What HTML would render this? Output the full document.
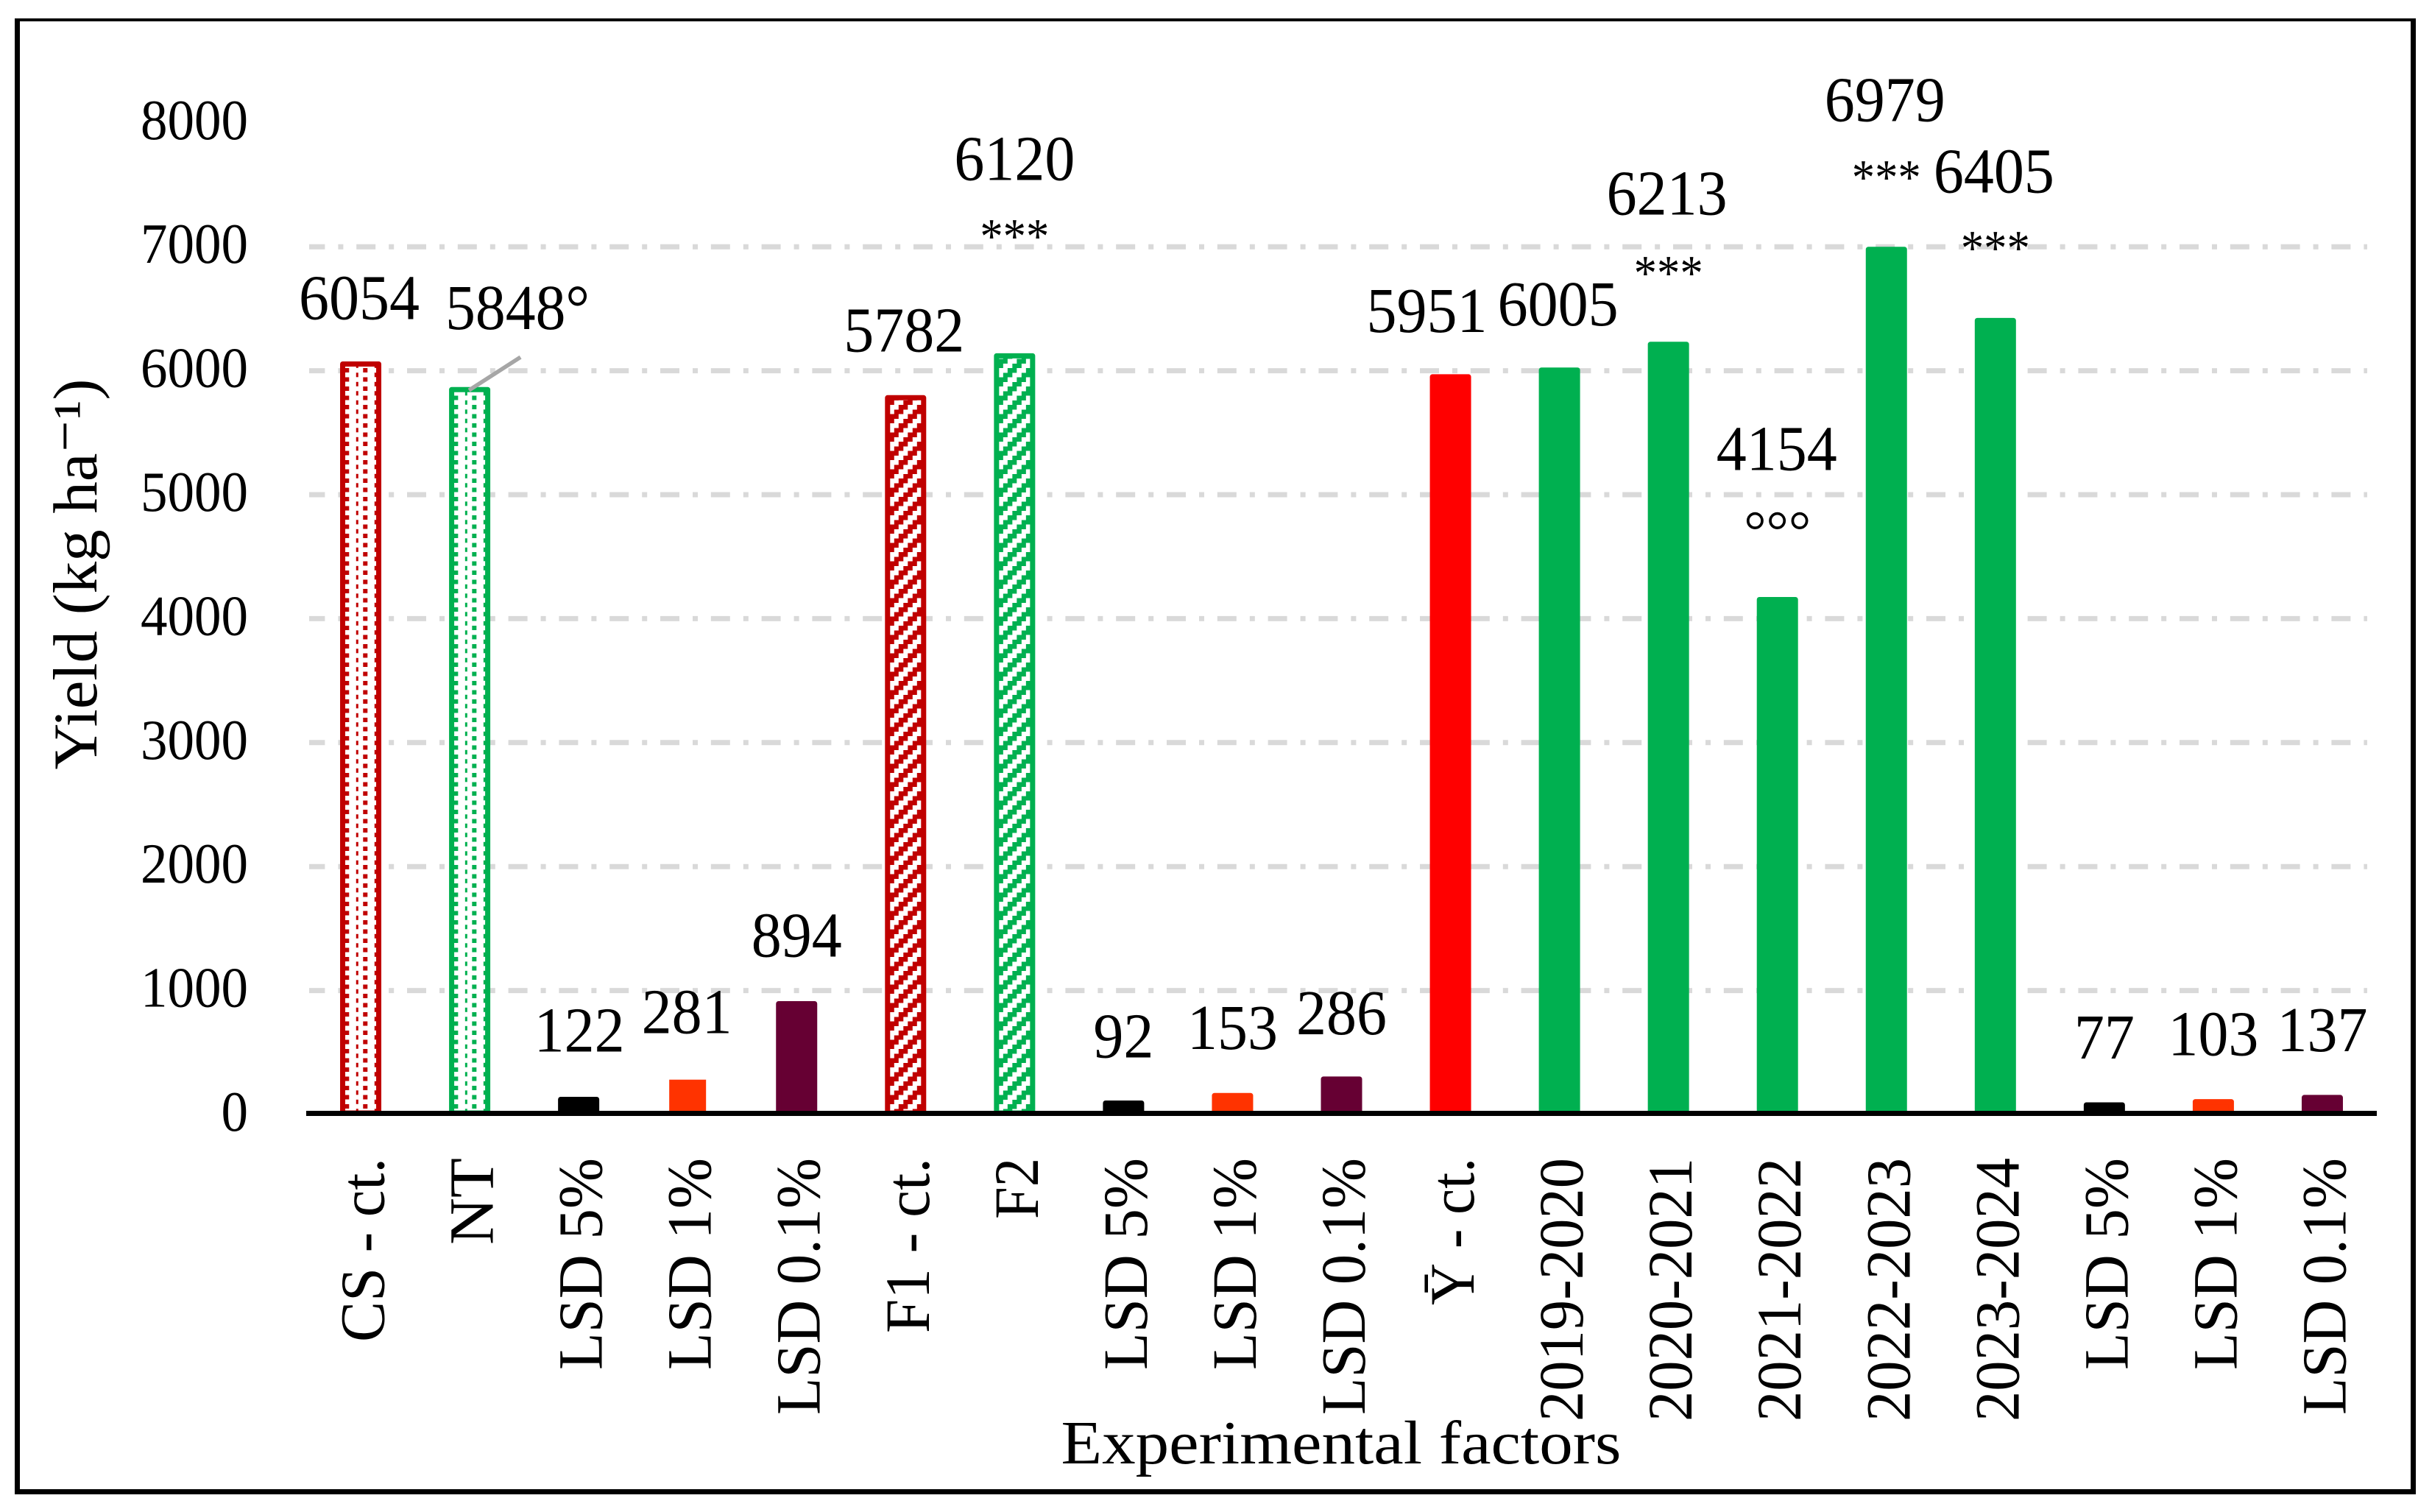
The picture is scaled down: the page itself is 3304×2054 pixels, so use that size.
<!DOCTYPE html>
<html lang="en">
<head>
<meta charset="utf-8">
<title>Yield by experimental factors</title>
<style>
html,body{margin:0;padding:0;background:#fff;}
svg{display:block;font-family:"Liberation Serif",serif;fill:#000;}
</style>
</head>
<body>
<svg id="chart" xmlns="http://www.w3.org/2000/svg" width="3304" height="2054" viewBox="0 0 3304 2054">
  <defs>
    <pattern id="dots-red" patternUnits="userSpaceOnUse" x="-6.25" y="0" width="25" height="12.5">
      <rect width="25" height="12.5" fill="#fff"/>
      <rect x="-3" y="6.3" width="6" height="6" fill="#C00000"/>
      <rect x="9.5" y="0" width="6" height="6" fill="#C00000"/>
    </pattern>
    <pattern id="dots-green" patternUnits="userSpaceOnUse" x="-6.25" y="0" width="25" height="12.5">
      <rect width="25" height="12.5" fill="#fff"/>
      <rect x="-3" y="6.3" width="6" height="6" fill="#00B050"/>
      <rect x="9.5" y="0" width="6" height="6" fill="#00B050"/>
    </pattern>
    <pattern id="stripes-red" patternUnits="userSpaceOnUse" x="3" y="0" width="25" height="25" shape-rendering="crispEdges">
      <rect width="25" height="25" fill="#fff"/>
      <path d="M12.5 0H25V6.25H12.5zM6.25 6.25H18.75V12.5H6.25zM0 12.5H12.5V18.75H0zM18.75 18.75H25V25H18.75zM0 18.75H6.25V25H0z" fill="#C00000"/>
    </pattern>
    <pattern id="stripes-green" patternUnits="userSpaceOnUse" x="3" y="0" width="25" height="25" shape-rendering="crispEdges">
      <rect width="25" height="25" fill="#fff"/>
      <path d="M12.5 0H25V6.25H12.5zM6.25 6.25H18.75V12.5H6.25zM0 12.5H12.5V18.75H0zM18.75 18.75H25V25H18.75zM0 18.75H6.25V25H0z" fill="#00B050"/>
    </pattern>
  </defs>
  <rect x="0" y="0" width="3304" height="2054" fill="#fff"/>
  <g fill="#000">
    <rect x="20" y="25" width="7" height="2005"/>
    <rect x="3275" y="25" width="7" height="2005"/>
    <rect x="20" y="25" width="3262" height="4"/>
    <rect x="20" y="2023" width="3262" height="7"/>
  </g>
  <g id="grid"></g>
  <g id="bars"></g>
  <rect x="416" y="1509" width="2813" height="7" fill="#000"/>
  <g id="yticks"></g>
  <g id="xticks"></g>
  <g id="labels"></g>
  <text transform="translate(131,780) rotate(-90)" text-anchor="middle" font-size="85" textLength="531" lengthAdjust="spacingAndGlyphs">Yield (kg ha⁻¹)</text>
  <text x="1822" y="1988" text-anchor="middle" font-size="84" textLength="761" lengthAdjust="spacingAndGlyphs">Experimental factors</text>
</svg>
<script>
/* ---------- chart data ---------- */
const categories = ["CS - ct.","NT","LSD 5%","LSD 1%","LSD 0.1%","F1 - ct.","F2","LSD 5%","LSD 1%","LSD 0.1%","Ȳ - ct.","2019-2020","2020-2021","2021-2022","2022-2023","2023-2024","LSD 5%","LSD 1%","LSD 0.1%"];
const yieldValues = [6054,5848,122,281,894,5782,6120,92,153,286,5951,6005,6213,4154,6979,6405,77,103,137];
const valueSuffixes = ["","°","","","","","","","","","","","","","","","","",""];
const significance = ["","","","","","","***","","","","","","***","°°°","***","***","","",""];
const yTickValues = [0,1000,2000,3000,4000,5000,6000,7000,8000];
const gridValues = [1000,2000,3000,4000,5000,6000,7000];

/* ---------- layout (not data) ---------- */
const barLooks = ["dots-red","dots-green","black","orange-plain","purple","stripes-red","stripes-green","black","orange","purple","red","green","green","green","green","green","black","orange","purple"];
const labelDx = [-2,65,1,-1,0,-2,0,0,0,0,-32,-2,-2,-1,-2,-2,0,0,0];
const labelDy = [-61,-82,-65,-63,-64,-63,-239,-62,-63,-61,-61,-61,-176,-176,-174,-174,-63,-63,-63];
const sigDy = [0,0,0,0,0,0,-140,0,0,0,0,0,-74,-68,-75,-76,0,0,0];
const tickLengths = [250,118,288,288,349,238,83,288,288,349,200,358,358,358,358,358,288,288,349];

const plotLeft = 416, plotRight = 3229, zeroY = 1514, pxPerUnit = 0.1684;
const slot = (plotRight - plotLeft) / categories.length;
const xScale = i => plotLeft + (i + 0.5) * slot;
const yScale = v => zeroY - v * pxPerUnit;

const NS = "http://www.w3.org/2000/svg";
function make(tag, attrs, parent, text) {
  const el = document.createElementNS(NS, tag);
  for (const k in attrs) el.setAttribute(k, attrs[k]);
  if (text !== undefined) el.textContent = text;
  parent.appendChild(el);
  return el;
}
const lookStyles = {
  "dots-red": {fill:"url(#dots-red)", stroke:"#C00000"},
  "dots-green": {fill:"url(#dots-green)", stroke:"#00B050"},
  "stripes-red": {fill:"url(#stripes-red)", stroke:"#C00000"},
  "stripes-green": {fill:"url(#stripes-green)", stroke:"#00B050"},
  "black": {fill:"#000", stroke:"#000"},
  "orange": {fill:"#FF3300", stroke:"#FF3300"},
  "orange-plain": {fill:"#FF3300", stroke:"none"},
  "purple": {fill:"#660033", stroke:"#660033"},
  "red": {fill:"#FF0000", stroke:"#FF0000"},
  "green": {fill:"#00B050", stroke:"#00B050"}
};

/* gridlines */
const gridG = document.getElementById("grid");
gridValues.forEach(v => {
  const line = make("line", {x1:420, x2:3216, y1:yScale(v), y2:yScale(v), stroke:"#D9D9D9", "stroke-width":7, "stroke-dasharray":"26 18 7 17.8", "stroke-dashoffset":4.6}, gridG);
  
  
});

/* bars */
const barBottom = zeroY - 2;
const barsG = document.getElementById("bars");
yieldValues.forEach((v, i) => {
  const look = lookStyles[barLooks[i]];
  const g = make("g", {transform:"translate(" + xScale(i) + ",0)"}, barsG);
  
  
  const plain = look.stroke === "none";
  const w = plain ? 50 : 49;
  const bar = make("rect", {x:-w/2, y:yScale(v), width:w, height:Math.max(barBottom - yScale(v), 0), fill:look.fill, stroke:look.stroke, "stroke-width":plain ? 0 : 7, "stroke-linejoin":"round"}, g);
  
  
});

/* leader line linking the NT bar to its moved label */
const leaderG = make("g", {}, barsG);


make("line", {x1:xScale(1) - 1, y1:yScale(yieldValues[1]) + 1, x2:xScale(1) + 69, y2:yScale(yieldValues[1]) - 44, stroke:"#A6A6A6", "stroke-width":5.5}, leaderG);

/* y tick labels */
const yG = document.getElementById("yticks");
yTickValues.forEach(v => {
  const s = String(v);
  const t = make("text", {x:337, y:yScale(v) + 22, "text-anchor":"end", "font-size":77, textLength:s.length * 36.5, lengthAdjust:"spacingAndGlyphs"}, yG, s);
  
  
});

/* category labels */
const xG = document.getElementById("xticks");
categories.forEach((c, i) => {
  const t = make("text", {transform:"translate(" + (xScale(i) + 31.5) + ",1573) rotate(-90)", "text-anchor":"end", "font-size":86, textLength:tickLengths[i], lengthAdjust:"spacingAndGlyphs"}, xG, c);
  
  
});

/* value labels and significance marks */
const labelsG = document.getElementById("labels");
yieldValues.forEach((v, i) => {
  const s = String(v);
  const len = s.length * 41 + (valueSuffixes[i] ? 32 : 0);
  const t = make("text", {x:xScale(i) + labelDx[i], y:yScale(v) + labelDy[i], "text-anchor":"middle", "font-size":87, textLength:len, lengthAdjust:"spacingAndGlyphs"}, labelsG, s + valueSuffixes[i]);
  
  
  if (significance[i]) {
    const m = make("text", {x:xScale(i), y:yScale(v) + sigDy[i], "text-anchor":"middle", "font-size":significance[i] === "***" ? 68 : 76, textLength:significance[i] === "***" ? 94 : 91, lengthAdjust:"spacingAndGlyphs"}, labelsG, significance[i]);
    
    
  }
});
</script>
</body>
</html>
